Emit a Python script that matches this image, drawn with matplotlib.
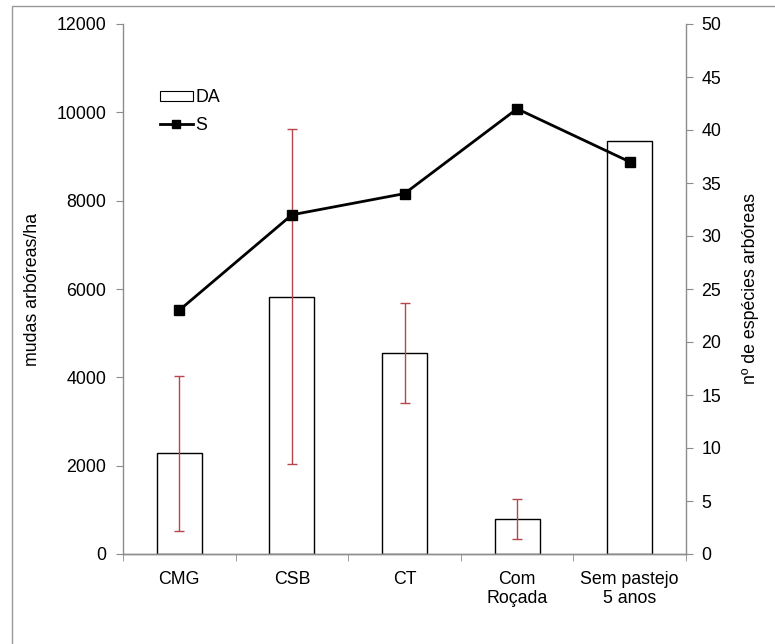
import matplotlib
matplotlib.use("Agg")
import matplotlib.pyplot as plt
from matplotlib.patches import Rectangle
from matplotlib.lines import Line2D
from matplotlib.patches import Patch

plt.rcParams['font.family'] = ['Liberation Sans', 'DejaVu Sans']

categories = ["CMG", "CSB", "CT", "Com\nRoçada", "Sem pastejo\n5 anos"]
da_values = [2280, 5830, 4550, 790, 9340]
da_errors = [1750, 3790, 1135, 460, 0]
s_values = [23, 32, 34, 42, 37]
left_ticks = [0, 2000, 4000, 6000, 8000, 10000, 12000]
right_ticks = [0, 5, 10, 15, 20, 25, 30, 35, 40, 45, 50]

FS = 12.8

fig = plt.figure(figsize=(7.75, 6.44), dpi=100)
ax = fig.add_axes([123/775, 1-554/644, (686-123)/775, (554-24)/644])

x = list(range(len(categories)))
yerr = [e if e > 0 else float('nan') for e in da_errors]
ax.bar(x, da_values, width=0.40, color='white', edgecolor='black', linewidth=1.0,
       yerr=yerr, error_kw=dict(ecolor='#b5474a', elinewidth=1.0, capsize=3.5, capthick=1.0),
       zorder=2)
ax.set_xlim(-0.5, len(categories)-0.5)
ax.set_ylim(0, 12000)
ax.set_yticks(left_ticks)
ax.set_yticklabels([str(t) for t in left_ticks])

ax2 = ax.twinx()
ax2.plot(x, s_values, color='black', linewidth=2.0, marker='s', markersize=7, zorder=3)
ax2.set_ylim(0, 50)
ax2.set_yticks(right_ticks)
ax2.set_yticklabels([str(t) for t in right_ticks])
ax2.set_xlim(-0.5, len(categories)-0.5)

gray = '#8c8c8c'
for a in (ax, ax2):
    a.spines['top'].set_visible(False)
    for s in ('left', 'right', 'bottom'):
        a.spines[s].set_color(gray)
        a.spines[s].set_linewidth(1.0)
ax.spines['right'].set_visible(False)
ax2.spines['left'].set_visible(False)

ax.set_xticks(x)
ax.set_xticklabels(categories, fontsize=FS, linespacing=1.15)
ax.set_xticks([i - 0.5 for i in range(len(categories)+1)], minor=True)
ax.tick_params(axis='x', which='major', length=0, pad=12)
ax.tick_params(axis='x', which='minor', length=5, color=gray, direction='out')
ax.tick_params(axis='y', length=5, color=gray, direction='out', labelsize=FS, pad=7)
ax2.tick_params(axis='y', length=5, color=gray, direction='out', labelsize=FS, pad=6)

ax.set_ylabel("mudas arbóreas/ha", fontsize=FS, labelpad=11)
ax2.set_ylabel("nº de espécies arbóreas", fontsize=FS, labelpad=15)

handles = [Patch(facecolor='white', edgecolor='black', linewidth=0.8, label='DA'),
           Line2D([0], [0], color='black', linewidth=2.0, marker='s', markersize=6, label='S')]
ax2.legend(handles=handles, loc='upper left', bbox_to_anchor=(0.053, 0.891), frameon=False,
           fontsize=FS, handlelength=1.85, handleheight=0.5, handletextpad=0.15,
           labelspacing=0.6, borderaxespad=0)

fig.add_artist(Rectangle((12/775, -0.5), 2.0, 1.5 - 5.5/644, transform=fig.transFigure,
                         fill=False, edgecolor='#999999', linewidth=1.0))

fig.savefig("out.png", dpi=100)
